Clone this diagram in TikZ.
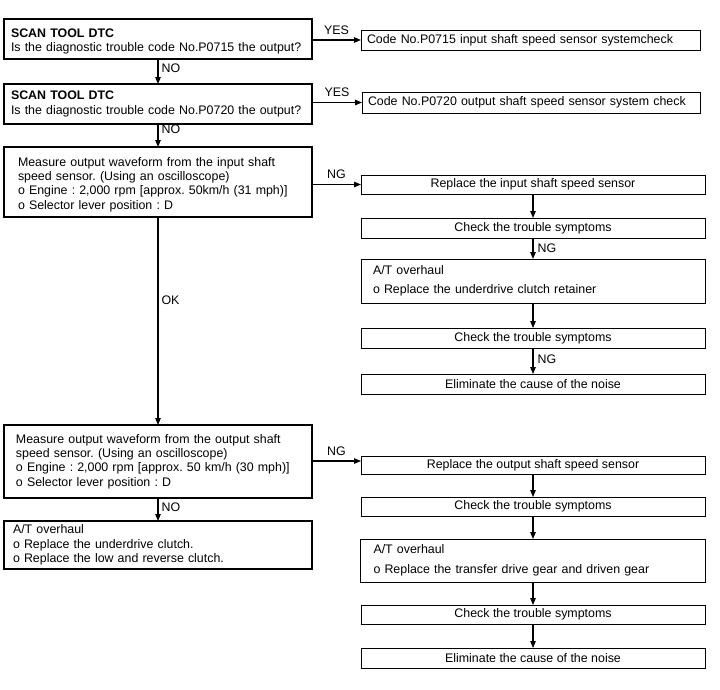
\documentclass[tikz,border=0pt]{standalone}
\usepackage{fontspec}
\setmainfont{Liberation Sans}
\usetikzlibrary{arrows.meta,positioning}
\frenchspacing

\begin{document}
\begin{tikzpicture}[
  x=1pt, y=1pt,
  every node/.style={font=\fontsize{12.4}{14.3}\selectfont},
  lbox/.style={draw, line width=1.3pt, anchor=north west, align=left, outer sep=0pt,
               text width=294pt, inner xsep=7pt, inner ysep=0pt},
  lowtext/.style={execute at begin node={\rule{0pt}{14pt}}},
  rbox/.style={draw, line width=0.8pt, anchor=north west, align=center, outer sep=0pt,
               minimum width=344pt, inner sep=0pt},
  ybox/.style={draw, line width=0.8pt, anchor=west, align=left, outer sep=0pt,
               text width=327pt, inner xsep=6pt, inner ysep=0pt},
  arr/.style={-{Triangle[length=7pt,width=5.5pt]}, line width=1.1pt},
  lbl/.style={inner sep=2pt}
]
  \useasboundingbox (0,0) rectangle (720,-689);
  % Left column
  \node[lbox, lowtext, minimum height=40pt] (scan1) at (4,-19)
    {\textbf{SCAN TOOL DTC}\\Is the diagnostic trouble code No.P0715 the output?};
  \node[lbox, minimum height=40pt, below=25pt of scan1] (scan2)
    {\textbf{SCAN TOOL DTC}\\Is the diagnostic trouble code No.P0720 the output?};
  \node[lbox, lowtext, minimum height=70pt, text width=280pt, inner xsep=14pt, below=23pt of scan2] (inmeas)
    {Measure output waveform from the input shaft\\speed sensor. (Using an oscilloscope)\\
     o Engine : 2,000 rpm [approx. 50km/h (31 mph)]\\o Selector lever position : D};
  \node[lbox, minimum height=73pt, text width=284pt, inner xsep=12pt, below=208pt of inmeas] (outmeas)
    {Measure output waveform from the output shaft\\speed sensor. (Using an oscilloscope)\\
     o Engine : 2,000 rpm [approx. 50 km/h (30 mph)]\\o Selector lever position : D};
  \node[lbox, minimum height=48pt, text width=290pt, inner xsep=9pt, below=23pt of outmeas] (atoh)
    {A/T overhaul\\o Replace the underdrive clutch.\\o Replace the low and reverse clutch.};
  % YES results
  \node[ybox, minimum height=20pt] (yes1) at (361,-40)
    {Code No.P0715 input shaft speed sensor systemcheck};
  \node[ybox, minimum height=21pt, text width=326pt] (yes2) at (362,-102.5)
    {Code No.P0720 output shaft speed sensor system check};
  % Input shaft branch
  \node[rbox, minimum height=19pt] (inrep) at (361,-175) {Replace the input shaft speed sensor};
  \node[rbox, minimum height=20pt, below=24pt of inrep] (inchk1) {Check the trouble symptoms};
  \node[rbox, minimum height=44pt, align=left, text width=320pt, inner xsep=12pt,
        below=21pt of inchk1] (inoh)
    {A/T overhaul\\[5pt]o Replace the underdrive clutch retainer};
  \node[rbox, minimum height=20pt, below=25pt of inoh] (inchk2) {Check the trouble symptoms};
  \node[rbox, minimum height=20pt, below=26pt of inchk2] (inelim) {Eliminate the cause of the noise};
  % Output shaft branch
  \node[rbox, minimum height=18pt] (outrep) at (361,-456) {Replace the output shaft speed sensor};
  \node[rbox, minimum height=19pt, below=23pt of outrep] (outchk1) {Check the trouble symptoms};
  \node[rbox, minimum height=43pt, align=left, text width=319pt, inner xsep=13pt,
        below=23pt of outchk1] (outoh)
    {A/T overhaul\\[6pt]o Replace the transfer drive gear and driven gear};
  \node[rbox, minimum height=19pt, below=23pt of outoh] (outchk2) {Check the trouble symptoms};
  \node[rbox, minimum height=20pt, below=24pt of outchk2] (outelim) {Eliminate the cause of the noise};
  \coordinate (outng) at ([yshift=4pt]outrep.west);
  % Arrows
  \draw[arr] (scan1.east |- yes1.west) -- (yes1.west) node[lbl, midway, above=3pt] {YES};
  \draw[arr] (scan2.east |- yes2.west) -- (yes2.west) node[lbl, midway, above=3pt] {YES};
  \draw[arr] (scan1) -- (scan2) node[lbl, pos=0.37, right=1pt] {NO};
  \draw[arr] (scan2) -- (inmeas) node[lbl, pos=0.24, right=1pt] {NO};
  \draw[arr] (inmeas) -- (outmeas) node[lbl, pos=0.4, right=1pt] {OK};
  \draw[arr] (outmeas) -- (atoh) node[lbl, pos=0.4, right=1pt] {NO};
  \draw[arr] (inmeas.east |- inrep.west) -- (inrep.west) node[lbl, midway, above=3pt] {NG};
  \draw[arr] (outmeas.east |- outng) -- (outng) node[lbl, midway, above=3pt] {NG};
  \draw[arr] (inrep) -- (inchk1);
  \draw[arr] (inchk1) -- (inoh) node[lbl, midway, right=2pt] {NG};
  \draw[arr] (inoh) -- (inchk2);
  \draw[arr] (inchk2) -- (inelim) node[lbl, pos=0.42, right=2pt] {NG};
  \draw[arr] (outrep) -- (outchk1);
  \draw[arr] (outchk1) -- (outoh);
  \draw[arr] (outoh) -- (outchk2);
  \draw[arr] (outchk2) -- (outelim);
\end{tikzpicture}
\end{document}
